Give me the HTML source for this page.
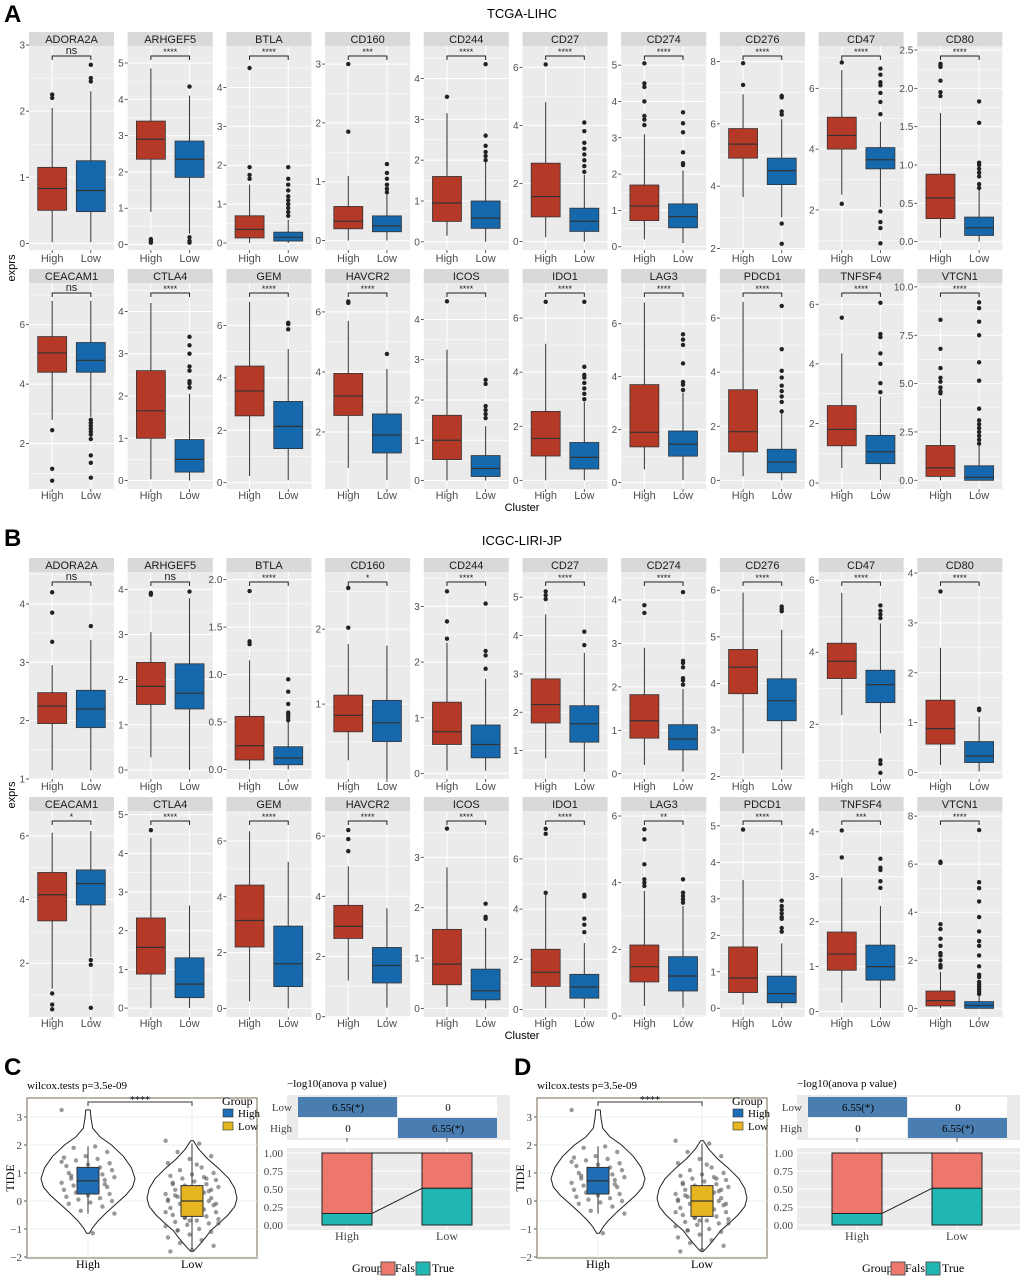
<!DOCTYPE html>
<html><head><meta charset="utf-8"><style>
html,body{margin:0;padding:0;background:#fff;}
svg{display:block;}
</style></head><body>
<svg id="fig" width="1020" height="1278" viewBox="0 0 1020 1278" xmlns="http://www.w3.org/2000/svg" font-family="'Liberation Sans', Arial, sans-serif">
<text x="4" y="22" font-size="24" font-weight="bold">A</text>
<text x="522" y="18" font-size="13" text-anchor="middle">TCGA-LIHC</text>
<text x="4" y="546" font-size="24" font-weight="bold">B</text>
<text x="522" y="545" font-size="13" text-anchor="middle">ICGC-LIRI-JP</text>
<text transform="translate(15,268) rotate(-90)" font-size="11" text-anchor="middle">exprs</text>
<text transform="translate(15,795) rotate(-90)" font-size="11" text-anchor="middle">exprs</text>
<text x="522" y="511" font-size="11" text-anchor="middle">Cluster</text>
<text x="522" y="1039" font-size="11" text-anchor="middle">Cluster</text>
<g id="boxes"></g>
<g id="lower"></g>
</svg>
<script>
const aGenes=["ADORA2A","ARHGEF5","BTLA","CD160","CD244","CD27","CD274","CD276","CD47","CD80","CEACAM1","CTLA4","GEM","HAVCR2","ICOS","IDO1","LAG3","PDCD1","TNFSF4","VTCN1"];
const aSig=["ns","****","****","***","****","****","****","****","****","****","ns","****","****","****","****","****","****","****","****","****"];
const aLims=[[-0.1,2.97],[-0.15,5.44],[-0.18,5.04],[-0.16,3.29],[-0.2,4.77],[-0.29,6.7],[-0.09,5.5],[1.95,8.47],[0.68,7.36],[-0.11,2.54],
[0.47,7.37],[-0.2,4.65],[-0.24,7.58],[0.1,6.93],[-0.21,4.88],[-0.32,7.26],[-0.24,7.5],[-0.32,7.26],[-0.2,6.68],[-0.45,10.15]];
const aTicks=[["0","1","2","3"],["0","1","2","3","4","5"],["0","1","2","3","4"],["0","1","2","3"],["0","1","2","3","4"],["0","2","4","6"],["0","1","2","3","4","5"],["2","4","6","8"],["2","4","6"],["0.0","0.5","1.0","1.5","2.0","2.5"],
["2","4","6"],["0","1","2","3","4"],["0","2","4","6"],["2","4","6"],["0","1","2","3","4"],["0","2","4","6"],["0","2","4","6"],["0","2","4","6"],["0","2","4","6"],["0.0","2.5","5.0","7.5","10.0"]];
const aHighBox=[[0.02,0.5,0.83,1.15,2.05],[0.9,2.35,2.9,3.4,4.85],[0,0.13,0.35,0.7,1.5],[0,0.2,0.33,0.58,1.1],[0.15,0.5,0.95,1.6,3.15],[0.15,0.85,1.55,2.7,4.8],[0.2,0.72,1.12,1.7,3.1],[3.65,4.9,5.35,5.85,6.95],[2.5,4.0,4.45,5.05,6.6],[0.05,0.3,0.57,0.88,1.68],
[2.8,4.4,5.05,5.6,6.8],[0.03,1.0,1.65,2.6,4.2],[0.25,2.55,3.5,4.45,6.9],[0.8,2.55,3.2,3.95,5.7],[0,0.52,1.0,1.62,3.25],[0,0.9,1.55,2.55,5.05],[0.5,1.35,1.9,3.7,6.8],[0.15,1.05,1.8,3.35,6.6],[0.5,1.25,1.8,2.6,4.35],[0,0.2,0.65,1.8,4.2]];
const aLowBox=[[0.02,0.48,0.8,1.25,2.3],[0.3,1.85,2.35,2.85,4.1],[0,0.05,0.15,0.28,0.6],[0,0.15,0.25,0.42,0.78],[0,0.33,0.58,1.0,1.95],[0,0.35,0.7,1.15,2.3],[0.1,0.52,0.83,1.18,2.1],[3.0,4.05,4.5,4.9,6.15],[2.1,3.35,3.65,4.05,4.9],[0,0.08,0.18,0.32,0.68],
[2.9,4.4,4.8,5.4,6.8],[0,0.2,0.5,0.97,2.05],[0.1,1.3,2.15,3.1,5.1],[0.4,1.3,1.9,2.6,4.1],[0,0.1,0.3,0.62,1.35],[0,0.42,0.85,1.4,2.9],[0.1,1.0,1.45,1.95,3.4],[0,0.28,0.68,1.15,2.5],[0.1,0.65,1.05,1.6,2.9],[0,0,0.15,0.75,1.8]];
const aHighOut=[[2.2,2.25],[0.05,0.1,0.15],[1.65,1.75,1.95,4.5],[1.85,3.0],[3.55],[6.1],[3.35,3.5,3.6,4.0,4.4,4.5,5.05],[7.25,7.95],[2.2,6.85],[1.9,1.95,2.1,2.28,2.3,2.32],
[2.45,1.15,0.75],[],[],[6.3,6.35],[4.45],[6.6],[],[],[5.55],[4.5,4.6,4.8,5.1,5.3,5.8,6.8,8.3]];
const aLowOut=[[2.45,2.5,2.7],[4.35,0.05,0.1,0.2],[0.7,0.8,0.9,1,1.1,1.2,1.35,1.5,1.65,1.95],[0.82,0.88,0.95,1.05,1.15,1.3],[2.0,2.1,2.2,2.35,2.6,4.35],[2.4,2.6,2.8,3.0,3.2,3.4,3.8,4.1],[2.25,2.3,2.6,3.15,3.4,3.7],[2.15,2.8,6.3,6.4,6.85,6.9],[0.9,1.4,1.6,1.95,5.15,5.55,5.85,6.1,6.2,6.45,6.65],[0.7,0.75,0.85,0.9,0.95,1.0,1.03,1.55,1.83],
[2.8,2.7,2.6,2.5,2.4,2.3,2.15,1.6,1.35,0.85],[2.2,2.3,2.35,2.6,2.7,3.0,3.2,3.4],[5.85,6.05,6.1],[4.6],[1.55,1.65,1.75,1.85,2.4,2.5],[3.0,3.2,3.4,3.6,3.8,3.9,4.2,6.6],[3.5,3.7,3.8,4.5,5.2,5.4,5.6],[2.55,2.9,3.1,3.3,3.5,3.8,4.05,4.85,6.45],[3.05,3.35,4.0,4.35,4.9,5.0,6.05],[1.9,2.1,2.3,2.5,2.7,2.9,3.1,3.7,5.15,6.1,7.5,8.2,8.9,9.2]];

const bGenes=aGenes;
const bSig=["ns","ns","****","*","****","****","****","****","****","****","*","****","****","****","****","****","**","****","***","****"];
const bLims=[[1.0,4.53],[-0.2,4.36],[-0.1,2.07],[0,2.75],[-0.1,3.6],[0.26,5.63],[-0.12,4.62],[1.95,6.37],[0.48,6.2],[-0.13,4.0],
[0.31,6.75],[-0.23,5.07],[-0.31,7.04],[-0.01,6.8],[-0.17,3.9],[-0.3,7.87],[-0.03,6.12],[-0.24,5.38],[-0.12,4.44],[-0.36,8.17]];
const bTicks=[["1","2","3","4"],["0","1","2","3","4"],["0.0","0.5","1.0","1.5","2.0"],["1","2"],["0","1","2","3"],["1","2","3","4","5"],["0","1","2","3","4"],["2","3","4","5","6"],["2","4","6"],["0","1","2","3","4"],
["2","4","6"],["0","1","2","3","4","5"],["0","2","4","6"],["0","2","4","6"],["0","1","2","3"],["0","2","4","6"],["0","2","4","6"],["0","1","2","3","4","5"],["0","1","2","3","4"],["0","2","4","6","8"]];
const bHighBox=[[1.15,1.95,2.25,2.48,2.95],[0.28,1.45,1.85,2.38,3.05],[0,0.1,0.25,0.56,1.15],[0.25,0.63,0.85,1.12,1.8],[0.05,0.52,0.75,1.28,2.35],[0.8,1.72,2.2,2.87,4.55],[0.2,0.82,1.22,1.82,2.9],[2.5,3.78,4.35,4.73,5.95],[2.25,3.27,3.75,4.25,5.65],[0.15,0.57,0.88,1.45,2.5],
[1.2,3.33,4.15,4.85,6.1],[0,0.88,1.57,2.33,4.4],[0.25,2.2,3.15,4.42,6.35],[1.2,2.6,3.0,3.7,5.0],[0.03,0.47,0.88,1.57,2.8],[0.05,0.92,1.48,2.4,4.6],[0.3,1.02,1.48,2.13,3.75],[0.1,0.43,0.83,1.68,3.52],[0.2,0.92,1.28,1.77,2.98],[0,0.1,0.32,0.72,1.52]];
const bLowBox=[[1.15,1.88,2.2,2.52,3.38],[0,1.35,1.7,2.35,3.8],[0,0.05,0.12,0.24,0.5],[0,0.5,0.75,1.05,1.78],[0.05,0.28,0.52,0.87,1.7],[0.45,1.22,1.7,2.17,3.55],[0.05,0.55,0.8,1.13,1.95],[2.15,3.2,3.63,4.1,5.15],[1.75,2.6,3.1,3.5,4.8],[0.02,0.2,0.33,0.62,1.12],
[2.2,3.83,4.5,4.93,6.15],[0,0.27,0.62,1.3,2.65],[0,0.78,1.6,2.95,5.25],[0.3,1.12,1.7,2.3,3.6],[0,0.17,0.35,0.78,1.6],[0.05,0.45,0.9,1.4,2.65],[0.25,0.75,1.2,1.78,3.3],[0,0.15,0.4,0.88,1.78],[0.08,0.7,1.0,1.48,2.35],[0,0,0.12,0.28,0.55]];
const bHighOut=[[3.35,3.85,4.2],[3.88,3.92],[1.32,1.35,1.88],[2.02,2.55],[2.42,2.73,3.27],[4.95,5.05,5.15],[3.7,3.88],[],[],[3.63],
[1.05,0.7,0.55],[4.6],[],[5.5,5.9,6.2],[3.57],[4.65,7.0,7.2],[3.9,4.0,4.1,4.55,5.3,5.6],[4.9],[3.43,4.03],[1.7,1.8,2.0,2.2,2.3,2.6,2.9,3.3,3.5,6.05,6.1]];
const bLowOut=[[3.62],[3.95],[0.52,0.55,0.58,0.6,0.69,0.82,0.95],[],[1.88,2.12,2.2,3.05],[3.75,4.1],[2.05,2.15,2.2,2.45,2.55,2.6,4.18],[5.55,5.6,5.65],[0.65,0.9,1.0,4.95,5.05,5.15,5.3],[1.25,1.28],
[2.1,1.95,0.6],[],[],[],[1.78,1.82,2.08],[3.08,3.38,3.62,4.5,4.57],[3.4,3.5,3.6,3.7,4.1],[2.1,2.2,2.45,2.5,2.6,2.7,2.8,2.95],[2.75,2.9,3.15,3.2,3.4],[0.6,0.7,0.8,0.9,1.0,1.1,1.3,1.4,1.75,2.2,2.6,2.8,3.2,3.8,4.45,5.0,5.25,7.42]];

// TIDE panels (C / D)
const tideGroups=["High","Low"];
const tideTicks=[-2,-1,0,1,2,3];
const tideHighBox=[-0.45,0.25,0.72,1.2,1.95];
const tideLowBox=[-1.75,-0.55,0.0,0.55,2.05];
const tideHighPts=[3.25,1.95,1.9,1.75,1.6,1.55,1.5,1.45,1.35,1.3,1.25,1.2,1.15,1.1,1.05,1.0,0.95,0.9,0.85,0.8,0.8,0.75,0.7,0.65,0.6,0.55,0.5,0.45,0.4,0.35,0.3,0.25,0.2,0.15,0.1,0.05,0.0,-0.05,-0.1,-0.2,-0.35,-0.45,-1.15,0.9,0.6,0.45,1.4,0.3];
const tideLowPts=[2.15,2.05,1.75,1.6,1.5,1.35,1.2,1.1,1.0,0.95,0.9,0.85,0.8,0.75,0.7,0.65,0.6,0.55,0.5,0.45,0.4,0.35,0.3,0.25,0.2,0.15,0.1,0.05,0.0,-0.05,-0.1,-0.15,-0.2,-0.25,-0.3,-0.35,-0.4,-0.45,-0.5,-0.55,-0.6,-0.65,-0.7,-0.75,-0.8,-0.85,-0.9,-1.0,-1.05,-1.1,-1.2,-1.3,-1.4,-1.5,-1.6,-1.75,-1.8,0.3,0.1,-0.1,-0.3,0.6,0.8,-0.6,-0.8,1.3,0.2,0.0,-0.2,-0.4,0.5,-1.05,0.4,-0.7,0.05,-0.15];
const violinHighY=[3.25,3.0,2.6,2.3,2.0,1.6,1.2,0.8,0.5,0.2,-0.1,-0.4,-0.7,-0.95,-1.15];
const violinHighW=[0.05,0.06,0.1,0.25,0.5,0.75,0.92,1.0,0.95,0.8,0.6,0.4,0.22,0.1,0.03];
const violinLowY=[2.15,1.85,1.5,1.15,0.8,0.45,0.1,-0.2,-0.5,-0.8,-1.05,-1.3,-1.5,-1.68,-1.8];
const violinLowW=[0.03,0.15,0.35,0.6,0.82,0.95,1.0,0.95,0.8,0.6,0.42,0.3,0.2,0.1,0.03];
const anovaRows=["Low","High"];
const anovaVals=[["6.55(*)","0"],["0","6.55(*)"]];
const propCats=["High","Low"];
const propTrue=[0.16,0.51];
const propTicks=["0.00","0.25","0.50","0.75","1.00"];

const NS="http://www.w3.org/2000/svg";
function mk(tag,attrs,parent){const e=document.createElementNS(NS,tag);for(const k in attrs)e.setAttribute(k,attrs[k]);parent.appendChild(e);return e;}
const RED="#b43a27",BLUE="#1668ad",GRID="#ffffff";
const boxes=document.getElementById('boxes');

function drawPanel(x0,sTop,top,bot,gene,sig,lim,ticks,hb,lb,ho,lo,lblY){
  const W=85;
  const g=mk('g',{},boxes);
  
  
  const y=v=>bot-(v-lim[0])/(lim[1]-lim[0])*(bot-top);
  const xHigh=x0+W*0.6/2.2, xLow=x0+W*1.6/2.2, bw=W*0.75/2.2;
  mk('rect',{x:x0,y:sTop,width:W,height:bot-sTop,fill:'#ebebeb'},g);
  const strip=mk('rect',{x:x0,y:sTop,width:W,height:14,fill:'#d9d9d9'},g);
  
  
  mk('text',{x:x0+W/2,y:sTop+11,'font-size':11,'text-anchor':'middle',fill:'#1a1a1a'},g).textContent=gene;
  const tv=ticks.map(Number);
  const step=tv.length>1?tv[1]-tv[0]:1;
  const minors=[];
  for(let i=-1;i<tv.length;i++){const m=(i<0?tv[0]-step/2:tv[i]+step/2);if(m>lim[0]&&m<lim[1])minors.push(m);}
  minors.forEach(m=>{if(y(m)>sTop+14)mk('line',{x1:x0,x2:x0+W,y1:y(m),y2:y(m),stroke:GRID,'stroke-width':0.5},g);});
  tv.forEach((t,i)=>{const yy=y(t);
    if(yy>sTop+14)mk('line',{x1:x0,x2:x0+W,y1:yy,y2:yy,stroke:GRID,'stroke-width':1},g);
    mk('line',{x1:x0-3,x2:x0,y1:yy,y2:yy,stroke:'#333','stroke-width':0.8},g);
    mk('text',{x:x0-4,y:yy+3.5,'font-size':10,'text-anchor':'end',fill:'#4d4d4d'},g).textContent=ticks[i];});
  [xHigh,xLow].forEach(xx=>{mk('line',{x1:xx,x2:xx,y1:sTop+14,y2:bot,stroke:GRID,'stroke-width':1},g);
    mk('line',{x1:xx,x2:xx,y1:bot,y2:bot+3,stroke:'#333','stroke-width':0.8},g);});
  mk('text',{x:xHigh,y:lblY,'font-size':11,'text-anchor':'middle',fill:'#4d4d4d'},g).textContent='High';
  mk('text',{x:xLow,y:lblY,'font-size':11,'text-anchor':'middle',fill:'#4d4d4d'},g).textContent='Low';
  [[xHigh,hb,ho,RED,'high'],[xLow,lb,lo,BLUE,'low']].forEach(([cx,b,o,col,nm])=>{
    mk('line',{x1:cx,x2:cx,y1:y(b[0]),y2:y(b[4]),stroke:'#333','stroke-width':1},g);
    const r=mk('rect',{x:cx-bw/2,y:y(b[3]),width:bw,height:Math.max(1,y(b[1])-y(b[3])),fill:col,stroke:'#333','stroke-width':0.8},g);
    
    
    mk('line',{x1:cx-bw/2,x2:cx+bw/2,y1:y(b[2]),y2:y(b[2]),stroke:'#333','stroke-width':1.2},g);
    o.forEach(v=>mk('circle',{cx:cx,cy:y(v),r:2.2,fill:'#222'},g));
  });
  const by=sTop+24;
  mk('path',{d:`M${xHigh},${by+4}V${by}H${xLow}V${by+4}`,fill:'none',stroke:'#222','stroke-width':1},g);
  const st=mk('text',{x:(xHigh+xLow)/2,y:sig==='ns'?by-2:by-1,'font-size':sig==='ns'?11:9,'text-anchor':'middle',fill:'#222'},g);
  st.textContent=sig;
  
  
}
const rowsA=[[32,47,250,262],[269,284,489,499]];
const rowsB=[[558,573,779,790],[797,812,1017,1027]];
for(let i=0;i<20;i++){
  const c=i%10,r=Math.floor(i/10),x0=29+c*98.7;
  let R=rowsA[r];
  drawPanel(x0,R[0],R[1],R[2],aGenes[i],aSig[i],aLims[i],aTicks[i],aHighBox[i],aLowBox[i],aHighOut[i],aLowOut[i],R[3]);
  R=rowsB[r];
  drawPanel(x0,R[0],R[1],R[2],bGenes[i],bSig[i],bLims[i],bTicks[i],bHighBox[i],bLowBox[i],bHighOut[i],bLowOut[i],R[3]);
}

// Lower panels C and D
const lower=document.getElementById('lower');
function drawLower(dx,letter){
  const g=mk('g',{'font-family':"'Liberation Serif', serif"},lower);
  
  
  mk('text',{x:dx+4,y:1075,'font-size':24,'font-weight':'bold','font-family':"'Liberation Sans', sans-serif"},g).textContent=letter;
  mk('text',{x:dx+27,y:1089,'font-size':11},g).textContent='wilcox.tests p=3.5e-09';
  const L=dx+27,T=1098,Rr=dx+257,B=1258;
  const ty=v=>1201-v*28;
  const xs={High:dx+88,Low:dx+192};
  mk('rect',{x:L,y:T,width:Rr-L,height:B-T,fill:'#fff',stroke:'#8c8070','stroke-width':1.2},g);
  tideTicks.forEach(t=>{mk('line',{x1:L,x2:Rr,y1:ty(t),y2:ty(t),stroke:'#ececec','stroke-width':1},g);
    mk('line',{x1:L-3,x2:L,y1:ty(t),y2:ty(t),stroke:'#555'},g);
    mk('text',{x:L-5,y:ty(t)+4,'font-size':11,'text-anchor':'end',fill:'#444'},g).textContent=t<0?'\u2212'+(-t):String(t);});
  tideGroups.forEach(k=>{mk('line',{x1:xs[k],x2:xs[k],y1:T,y2:B,stroke:'#ececec'},g);
    mk('text',{x:xs[k],y:1268,'font-size':12,'text-anchor':'middle'},g).textContent=k;});
  mk('text',{transform:`translate(${dx+14},1178) rotate(-90)`,'font-size':12,'text-anchor':'middle'},g).textContent='TIDE';
  const violin=(cx,Y,Wd,half,nm)=>{
    let d='M'+cx+','+ty(Y[0]);
    Y.forEach((v,i)=>d+=' L'+(cx+Wd[i]*half)+','+ty(v));
    for(let i=Y.length-1;i>=0;i--)d+=' L'+(cx-Wd[i]*half)+','+ty(Y[i]);
    const p=mk('path',{d:d+'Z',fill:'#fff',stroke:'#222','stroke-width':1,'stroke-linejoin':'round'},g);
    
    
  };
  violin(xs.High,violinHighY,violinHighW,47,'high');
  violin(xs.Low,violinLowY,violinLowW,45,'low');
  const pts=(cx,arr)=>arr.forEach((v,i)=>mk('circle',{cx:cx+(((i*37)%23)-11)*2.4,cy:ty(v),r:2.2,fill:'#555','fill-opacity':0.6},g));
  pts(xs.High,tideHighPts);pts(xs.Low,tideLowPts);
  [[xs.High,tideHighBox,'#1f6db5','high'],[xs.Low,tideLowBox,'#e6b620','low']].forEach(([cx,b,col,nm])=>{
    mk('line',{x1:cx,x2:cx,y1:ty(b[0]),y2:ty(b[4]),stroke:'#333'},g);
    const r=mk('rect',{x:cx-11,y:ty(b[3]),width:22,height:ty(b[1])-ty(b[3]),fill:col,stroke:'#333'},g);
    
    
    mk('line',{x1:cx-11,x2:cx+11,y1:ty(b[2]),y2:ty(b[2]),stroke:'#333','stroke-width':1.2},g);});
  mk('path',{d:`M${xs.High},${1106}V1102H${xs.Low}V1106`,fill:'none',stroke:'#333'},g);
  mk('text',{x:(xs.High+xs.Low)/2,y:1103,'font-size':10,'text-anchor':'middle'},g).textContent='****';
  const lg=mk('g',{},g);
  
  
  mk('text',{x:dx+222,y:1105,'font-size':12},lg).textContent='Group';
  mk('rect',{x:dx+223,y:1109,width:10,height:8,fill:'#1f6db5',stroke:'#333','stroke-width':0.6},lg);
  mk('text',{x:dx+238,y:1117,'font-size':11},lg).textContent='High';
  mk('rect',{x:dx+223,y:1122,width:10,height:8,fill:'#e6b620',stroke:'#333','stroke-width':0.6},lg);
  mk('text',{x:dx+238,y:1130,'font-size':11},lg).textContent='Low';
  mk('text',{x:dx+287,y:1087,'font-size':11},g).textContent='\u2212log10(anova p value)';
  mk('rect',{x:dx+287,y:1095,width:223,height:45,fill:'#ebebeb'},g);
  anovaRows.forEach((rn,ri)=>{
    const yy=1097+ri*21;
    mk('text',{x:dx+292,y:yy+14,'font-size':11,'text-anchor':'end',fill:'#444'},g).textContent=rn;
    anovaVals[ri].forEach((v,ci)=>{
      const c=mk('rect',{x:dx+298+ci*100,y:yy,width:99,height:20,fill:v==='0'?'#fff':'#4a7eb0'},g);
      
      
      mk('text',{x:dx+348+ci*100,y:yy+14,'font-size':11,'text-anchor':'middle'},g).textContent=v;});
  });
  const pL=dx+287,pR=dx+510,pT=1148,pB=1230;
  const py=v=>1225-v*72;
  mk('rect',{x:pL,y:pT,width:pR-pL,height:pB-pT,fill:'#ebebeb'},g);
  propTicks.forEach(t=>{const yy=py(+t);mk('line',{x1:pL,x2:pR,y1:yy,y2:yy,stroke:'#fff'},g);
    mk('text',{x:pL-4,y:yy+4,'font-size':11,'text-anchor':'end',fill:'#444'},g).textContent=t;});
  const bx=[dx+347,dx+447];
  propCats.forEach((c,i)=>{
    mk('line',{x1:bx[i],x2:bx[i],y1:pT,y2:pB,stroke:'#fff'},g);
    mk('line',{x1:bx[i],x2:bx[i],y1:1138,y2:1142,stroke:'#555'},g);
    const f=mk('rect',{x:bx[i]-25,y:py(1),width:50,height:py(propTrue[i])-py(1),fill:'#ee776d',stroke:'#222'},g);
    
    
    const t=mk('rect',{x:bx[i]-25,y:py(propTrue[i]),width:50,height:py(0)-py(propTrue[i]),fill:'#20b6b2',stroke:'#222'},g);
    
    
    mk('text',{x:bx[i],y:1240,'font-size':12,'text-anchor':'middle',fill:'#444'},g).textContent=c;});
  mk('line',{x1:bx[0]+25,x2:bx[1]-25,y1:py(1),y2:py(1),stroke:'#222'},g);
  mk('line',{x1:bx[0]+25,x2:bx[1]-25,y1:py(propTrue[0]),y2:py(propTrue[1]),stroke:'#222'},g);
  const l2=mk('g',{},g);
  
  
  mk('text',{x:dx+352,y:1272,'font-size':12},l2).textContent='Group';
  mk('rect',{x:dx+381,y:1262,width:14,height:13,fill:'#ee776d',stroke:'#555'},l2);
  mk('text',{x:dx+395,y:1272,'font-size':12},l2).textContent='False';
  mk('rect',{x:dx+416,y:1262,width:14,height:13,fill:'#20b6b2',stroke:'#555'},l2);
  mk('text',{x:dx+432,y:1272,'font-size':12},l2).textContent='True';
}
drawLower(0,'C');
drawLower(510,'D');
</script>
</body></html>
